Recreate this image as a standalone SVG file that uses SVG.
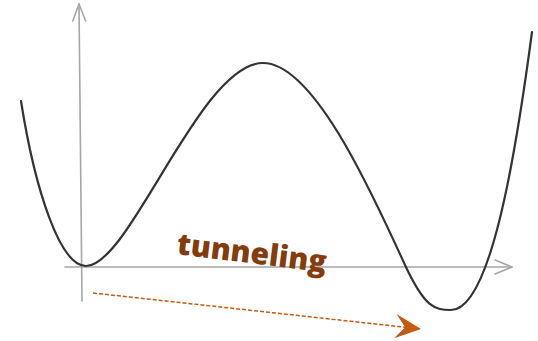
<svg xmlns="http://www.w3.org/2000/svg" width="538" height="341" viewBox="0 0 538 341">
  <style>
    .axis { fill: none; stroke: #a6a6a6; stroke-width: 1.6; stroke-linecap: round; stroke-linejoin: round; }
    .curve { fill: none; stroke: #333333; stroke-width: 2.2; stroke-linecap: round; }
    .label { font-family: "Open Sans", "Liberation Sans", sans-serif; font-weight: 800; font-size: 30px; fill: #843c0c; }
    .tunnel { fill: none; stroke: #c55a11; stroke-width: 1.5; stroke-dasharray: 4 2; }
  </style>
  <defs>
    <marker id="head" markerUnits="userSpaceOnUse" markerWidth="27" markerHeight="26" refX="26" refY="13" orient="auto" viewBox="0 0 27 26">
      <path d="M0,0.7 L26,13 L0,25.3 L10,13 Z" fill="#c55a11"/>
    </marker>
  </defs>
  <g id="axes">
    <path class="axis" d="M79,4 L82,301"/>
    <path class="axis" d="M72.7,21 L79,4 L85.7,21"/>
    <path class="axis" d="M65,267 L512,267"/>
    <path class="axis" d="M495,260 L512,267 L495,274"/>
  </g>
  <g id="potential">
    <path class="curve" d="M21,101 C35,190 60,266 86,266 C130,266 200,63 263,63 C315,63 375,200 405,265 C425,308 435,310 451,310 C490,310 515,160 532,32"/>
  </g>
  <g id="label">
    <text class="label" x="176" y="254" transform="rotate(7 176 254)">tunneling</text>
  </g>
  <g id="connectors">
    <path class="tunnel" d="M93,293 L421,329" marker-end="url(#head)"/>
  </g>
</svg>
